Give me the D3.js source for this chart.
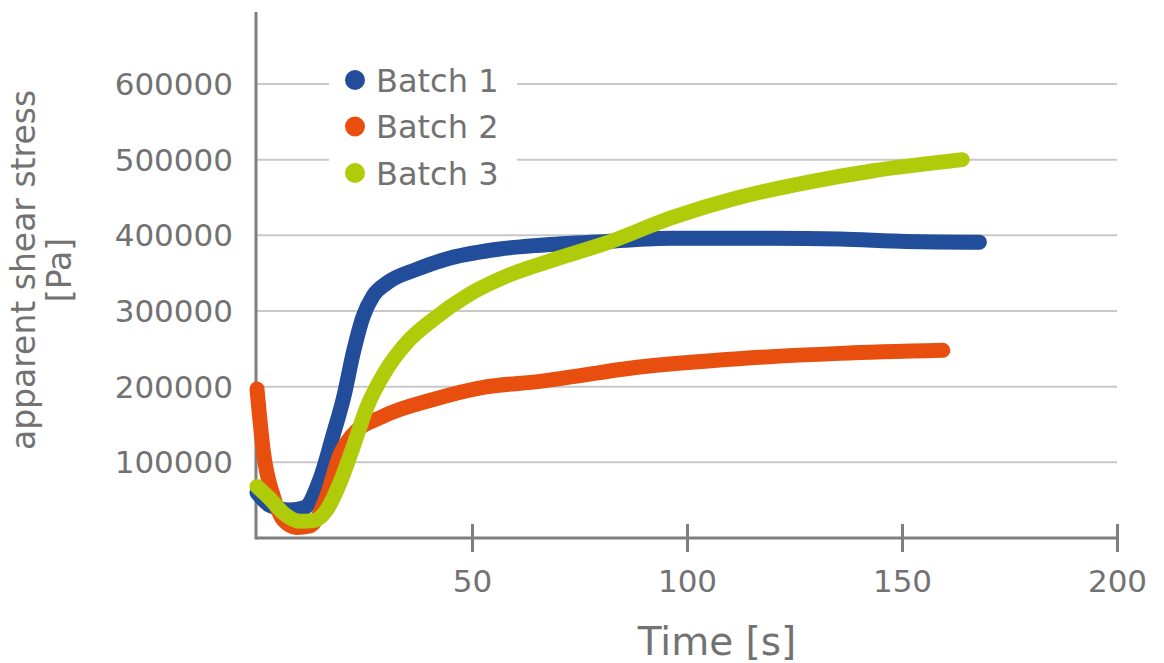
<html>
<head>
    <script src='https://cdnjs.cloudflare.com/ajax/libs/d3/7.8.5/d3.min.js'></script>
    <style>
        body { margin: 0; background: #fff; }
        text { font-family: Verdana, 'DejaVu Sans', sans-serif; fill: #727272; }
    </style>
</head>
<body>
</body>

<script>
    // data: [time s, stress Pa]
    var batch1 = [[0, 60000], [3, 43000], [7.7, 37000], [11, 40000], [14.6, 77000], [17.7, 136000],
        [20.2, 187000], [22.4, 245000], [24.7, 293000], [27, 320000], [30.2, 337000], [37.1, 355000],
        [44.9, 370000], [56.5, 382000], [65.8, 387000], [81.3, 392000], [96.7, 396000], [120, 396000],
        [135.6, 395000], [151, 392000], [168, 391000]];
    var batch2 = [[0, 197000], [1.5, 113000], [3.8, 55000], [6.1, 24000], [9.2, 14000], [12.3, 16000],
        [16.2, 55000], [19.3, 110000], [22, 135000], [29.4, 161000], [41, 183000], [52.6, 199000],
        [65.8, 207000], [89, 226000], [112, 237000], [135.6, 244000], [159.5, 248000]];
    var batch3 = [[0, 68000], [3, 52000], [6.1, 33000], [10, 22000], [13.1, 23000], [16.2, 37000],
        [19.3, 73000], [22.4, 121000], [25.5, 172000], [29.4, 216000], [34.8, 258000], [41, 289000],
        [48.8, 320000], [58, 346000], [68, 366000], [81.3, 390000], [96.8, 424000], [112, 450000],
        [128, 470000], [143, 485000], [164, 500000]];

    var seriesNames = ['Batch 1', 'Batch 2', 'Batch 3'];
    var seriesColors = ['#214d9a', '#e84f0f', '#b0cb0a'];
    var xTicks = [50, 100, 150, 200];
    var yTicks = [100000, 200000, 300000, 400000, 500000, 600000];

    var W = 1164, H = 663;
    var svg = d3.select('body').append('svg').attr('width', W).attr('height', H);

    var x = d3.scaleLinear().domain([0, 200]).range([257, 1117]);
    var y = d3.scaleLinear().domain([0, 600000]).range([538, 84]);

    // grid
    svg.append('g').selectAll('line').data(yTicks).enter().append('line')
       .attr('x1', x(0)).attr('x2', x(200))
       .attr('y1', function (d) { return y(d); }).attr('y2', function (d) { return y(d); })
       .style('stroke', '#c8c8c8').style('stroke-width', 2);

    // y labels
    svg.append('g').selectAll('text').data(yTicks).enter().append('text')
       .attr('x', 233).attr('y', function (d) { return y(d); })
       .attr('dy', '0.36em').attr('text-anchor', 'end')
       .style('font-size', '31px')
       .text(function (d) { return d; });

    // x axis
    var xAxis = d3.axisBottom(x).tickValues(xTicks).tickSize(14).tickPadding(18)
                  .tickFormat(d3.format('d'));
    var gx = svg.append('g').attr('transform', 'translate(0,' + y(0) + ')').call(xAxis);
    gx.select('.domain').remove();
    gx.selectAll('.tick line').attr('y1', -14).style('stroke', '#7f7f7f').style('stroke-width', 3);
    gx.selectAll('.tick text').style('font-size', '31px').style('font-family', 'Verdana, DejaVu Sans, sans-serif')
      .attr('fill', '#727272');

    svg.append('line').attr('x1', x(0) - 1).attr('x2', x(200)).attr('y1', y(0)).attr('y2', y(0))
       .style('stroke', '#7f7f7f').style('stroke-width', 3);
    svg.append('line').attr('x1', x(0) - 1).attr('x2', x(0) - 1).attr('y1', 12).attr('y2', y(0) + 1.5)
       .style('stroke', '#7f7f7f').style('stroke-width', 3);

    // titles
    svg.append('text').attr('x', 717).attr('y', 655).attr('text-anchor', 'middle')
       .style('font-size', '39px').text('Time [s]');
    var yt = svg.append('text').attr('transform', 'translate(35,270) rotate(-90)')
                .attr('text-anchor', 'middle').style('font-size', '33px');
    yt.append('tspan').attr('x', 0).attr('y', 0).text('apparent shear stress');
    yt.append('tspan').attr('x', 0).attr('y', 36).text('[Pa]');

    // lines
    var line = d3.line()
                 .x(function (d) { return x(d[0]); })
                 .y(function (d) { return y(d[1]); })
                 .curve(d3.curveMonotoneX);
    [batch1, batch2, batch3].forEach(function (s, i) {
        svg.append('path').datum(s).attr('d', line)
           .style('fill', 'none').style('stroke', seriesColors[i])
           .style('stroke-width', 15).style('stroke-linecap', 'round').style('stroke-linejoin', 'round');
    });

    // legend
    var lg = svg.append('g');
    lg.append('rect').attr('x', 329).attr('y', 58).attr('width', 188).attr('height', 140).style('fill', '#fff');
    seriesNames.forEach(function (n, i) {
        var cy = 80 + i * 46.5;
        lg.append('circle').attr('cx', 355).attr('cy', cy).attr('r', 10).style('fill', seriesColors[i]);
        lg.append('text').attr('x', 376).attr('y', cy).attr('dy', '0.36em')
          .style('font-size', '32px').text(n);
    });
</script>
</html>
